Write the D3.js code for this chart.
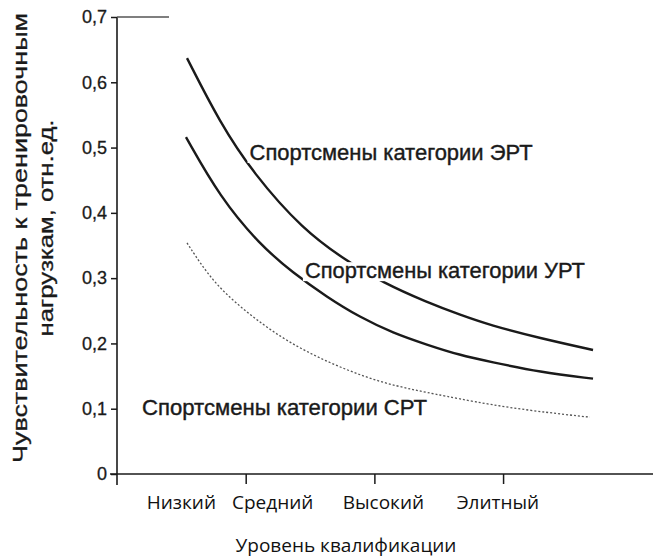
<!DOCTYPE html>
<html>
<head>
<meta charset="utf-8">
<script src="https://cdn.jsdelivr.net/npm/d3@7"></script>
<style>
  html, body { margin: 0; padding: 0; background: #fff; }
  #chart { width: 653px; height: 558px; }
</style>
</head>
<body>
<div id="chart"></div>
<script>
// =============================================================================
// DATA
// =============================================================================

const categories   = ["Низкий", "Средний", "Высокий", "Элитный"];
const categoryPos  = [0.5, 1.21, 2.07, 2.96];
const xTickValues  = [1, 2, 3];

const yTickValues  = [0, 0.1, 0.2, 0.3, 0.4, 0.5, 0.6, 0.7];
const yTickLabels  = ["0", "0,1", "0,2", "0,3", "0,4", "0,5", "0,6", "0,7"];

// ЭРТ
const ertX = [0.544, 0.8, 1.057, 1.445, 1.787, 2.067, 2.409, 2.665, 2.898, 3.287, 3.699];
const ertY = [0.637, 0.538, 0.461, 0.374, 0.326, 0.293, 0.263, 0.244, 0.228, 0.208, 0.19];
// УРТ
const urtX = [0.536, 0.8, 1.111, 1.368, 1.632, 1.888, 2.145, 2.409, 2.665, 2.898, 3.287, 3.699];
const urtY = [0.516, 0.424, 0.351, 0.308, 0.271, 0.24, 0.216, 0.198, 0.182, 0.172, 0.156, 0.146];
// СРТ
const srtX = [0.544, 0.746, 1.01, 1.267, 1.523, 1.787, 2.044, 2.3, 2.51, 3.03, 3.675];
const srtY = [0.354, 0.293, 0.247, 0.21, 0.182, 0.159, 0.141, 0.129, 0.121, 0.101, 0.087];

const seriesNames = [
  "Спортсмены категории ЭРТ",
  "Спортсмены категории УРТ",
  "Спортсмены категории СРТ"
];

const yTitle = ["Чувствительность к тренировочным", "нагрузкам, отн.ед."];
const xTitle = "Уровень квалификации";

// =============================================================================
// CHART
// =============================================================================

const W = 653, H = 558;
const ink = "#1a1a1a";
const scanFont = "'Liberation Sans', Arial, sans-serif";
const labelFont = "'Open Sans', 'Noto Sans', sans-serif";

const svg = d3.select("#chart")
  .append("svg")
  .attr("width", W)
  .attr("height", H);

const x = d3.scaleLinear().domain([0, 4.165]).range([117, 653]);
const y = d3.scaleLinear().domain([0, 0.7]).range([474, 17]);

// --- y axis ---
const yAxis = svg.append("g")
  .attr("transform", `translate(${x(0)},0)`)
  .call(d3.axisLeft(y)
    .tickValues(yTickValues)
    .tickFormat((d, i) => yTickLabels[i])
    .tickSize(6)
    .tickPadding(4));
yAxis.select(".domain").remove();
yAxis.selectAll("line").attr("stroke", ink).attr("stroke-width", 1.5);
yAxis.selectAll("text")
  .attr("fill", ink)
  .attr("stroke", ink)
  .attr("stroke-width", 0.3)
  .style("font-family", scanFont)
  .style("font-size", "18px");

svg.append("line")
  .attr("x1", x(0)).attr("x2", x(0))
  .attr("y1", y(0.7)).attr("y2", y(0) + 11)
  .attr("stroke", ink).attr("stroke-width", 1.6);

// short frame stub at the top
svg.append("line")
  .attr("x1", x(0)).attr("x2", x(0) + 52)
  .attr("y1", y(0.7)).attr("y2", y(0.7))
  .attr("stroke", "#555").attr("stroke-width", 1.4);

// --- x axis ---
const xAxis = svg.append("g")
  .attr("transform", `translate(0,${y(0)})`)
  .call(d3.axisBottom(x)
    .tickValues(xTickValues)
    .tickFormat("")
    .tickSize(10));
xAxis.select(".domain").remove();
xAxis.selectAll("line").attr("stroke", ink).attr("stroke-width", 1.5);

svg.append("line")
  .attr("x1", x(0) - 7).attr("x2", W)
  .attr("y1", y(0)).attr("y2", y(0))
  .attr("stroke", ink).attr("stroke-width", 1.6);

// --- category labels ---
svg.selectAll(".cat")
  .data(categories)
  .enter()
  .append("text")
  .attr("class", "cat")
  .attr("x", (d, i) => x(categoryPos[i]))
  .attr("y", 509)
  .attr("text-anchor", "middle")
  .style("font-family", labelFont)
  .style("font-size", "19px")
  .attr("fill", "#111")
  .text(d => d);

svg.append("text")
  .attr("x", 346)
  .attr("y", 552)
  .attr("text-anchor", "middle")
  .style("font-family", labelFont)
  .style("font-size", "19px")
  .attr("fill", "#111")
  .text(xTitle);

// --- y title (two rotated lines) ---
svg.append("text")
  .attr("transform", "translate(27,238) rotate(-90)")
  .attr("text-anchor", "middle")
  .attr("textLength", 450)
  .attr("lengthAdjust", "spacingAndGlyphs")
  .style("font-family", scanFont)
  .style("font-size", "21px")
  .attr("fill", ink)
  .attr("stroke", ink)
  .attr("stroke-width", 0.3)
  .text(yTitle[0]);

svg.append("text")
  .attr("transform", "translate(53,228) rotate(-90)")
  .attr("text-anchor", "middle")
  .attr("textLength", 217)
  .attr("lengthAdjust", "spacingAndGlyphs")
  .style("font-family", scanFont)
  .style("font-size", "21px")
  .attr("fill", ink)
  .attr("stroke", ink)
  .attr("stroke-width", 0.3)
  .text(yTitle[1]);

// --- curves ---
const line = d3.line()
  .x(d => x(d[0]))
  .y(d => y(d[1]))
  .curve(d3.curveBasis);

const series = [
  { xs: ertX, ys: ertY, dash: null,  w: 2.4, c: ink },
  { xs: urtX, ys: urtY, dash: null,  w: 2.4, c: ink },
  { xs: srtX, ys: srtY, dash: "2,2", w: 1.3, c: "#555" }
];

svg.selectAll(".curve")
  .data(series)
  .enter()
  .append("path")
  .attr("class", "curve")
  .attr("d", s => line(s.xs.map((v, i) => [v, s.ys[i]])))
  .attr("fill", "none")
  .attr("stroke", s => s.c)
  .attr("stroke-width", s => s.w)
  .attr("stroke-dasharray", s => s.dash);

// --- series labels (white box hides the curve behind them) ---
const labelAt = [[1.03, 0.481], [1.46, 0.3], [0.195, 0.09]];
const labelLen = [283, 280, 285];

seriesNames.forEach((name, i) => {
  const g = svg.append("g");
  const t = g.append("text")
    .attr("x", x(labelAt[i][0]))
    .attr("y", y(labelAt[i][1]))
    .attr("textLength", labelLen[i])
    .attr("lengthAdjust", "spacingAndGlyphs")
    .style("font-family", scanFont)
    .style("font-size", "22px")
    .attr("fill", ink)
    .attr("stroke", ink)
    .attr("stroke-width", 0.4)
    .text(name);
  const b = t.node().getBBox();
  g.insert("rect", "text")
    .attr("x", b.x - 2)
    .attr("y", b.y + 4)
    .attr("width", b.width + 4)
    .attr("height", b.height - 6)
    .attr("fill", "#fff");
});
</script>
</body>
</html>
